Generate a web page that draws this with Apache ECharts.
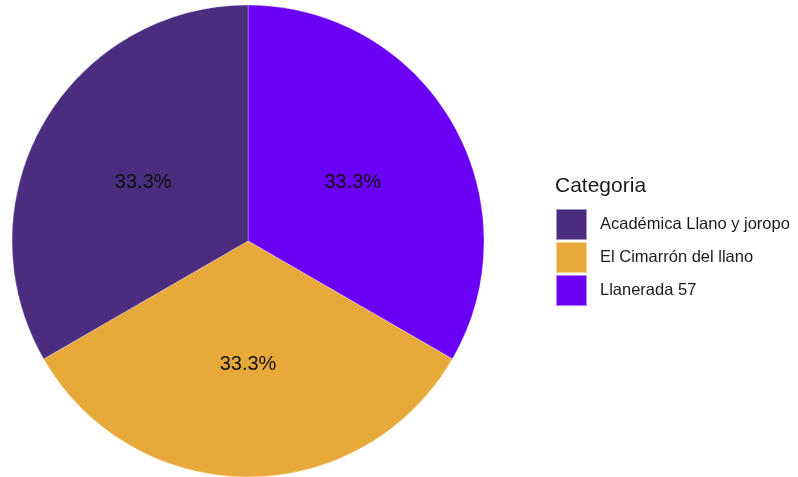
<!DOCTYPE html>
<html><head><meta charset="utf-8">
<script src="https://cdn.jsdelivr.net/npm/echarts@6/dist/echarts.min.js"></script>
<style>html,body{margin:0;padding:0;background:#fff}#c{width:798px;height:477px}</style>
</head><body><div id="c"></div>
<script>
const categories = ["Académica Llano y joropo", "El Cimarrón del llano", "Llanerada 57"];
const values = [1, 1, 1];
const colors = ["#4b2c7f", "#e8a93b", "#6a00f5"];
const legendTitle = "Categoria";

// clockwise drawing order starting at 12 o'clock: Llanerada, Cimarrón, Académica
const drawOrder = [2, 1, 0];
const data = drawOrder.map(i => ({name: categories[i], value: values[i], itemStyle: {color: colors[i]}}));

const chart = echarts.init(document.getElementById('c'), null, {renderer: 'canvas'});
chart.setOption({
  animation: false,
  backgroundColor: '#fff',
  graphic: [{type: 'text', left: 555, top: 176, style: {text: legendTitle, font: '21px "Liberation Sans", Arial, sans-serif', fill: '#1a1a1a'}}],
  legend: {
    orient: 'vertical', left: 555, top: 208, padding: 0,
    data: categories,
    icon: 'rect', itemWidth: 31, itemHeight: 31, itemGap: 0,
    textStyle: {fontSize: 16.5, color: '#1a1a1a', fontFamily: '"Liberation Sans", Arial, sans-serif', padding: [0,0,0,8]},
    selectedMode: false
  },
  series: [{
    type: 'pie',
    center: [248, 241], radius: [0, 236],
    startAngle: 90, clockwise: true,
    percentPrecision: 2,
    label: {show: true, position: 'inside', formatter: p => p.percent.toFixed(1) + '%', fontSize: 20, color: '#111', fontFamily: '"Liberation Sans", Arial, sans-serif', offset: [0, 2]},
    labelLine: {show: false},
    itemStyle: {borderColor: 'rgba(255,255,255,0.5)', borderWidth: 0.6},
    emphasis: {disabled: true},
    data: data
  }]
});
</script></body></html>
